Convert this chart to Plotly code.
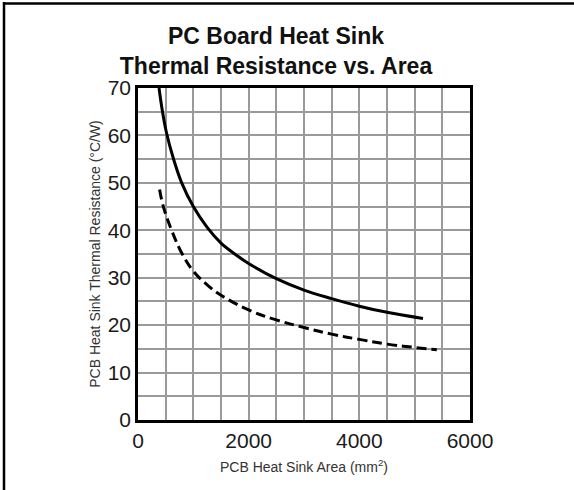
import plotly.graph_objects as go

# Data
solid_x = [380, 440, 518, 638, 790, 1000, 1250, 1500, 1750, 2000, 2500, 3000, 3500, 4000, 4500, 5150]
solid_y = [70, 65.2, 60.4, 55.2, 50, 45, 40.6, 37.3, 35.0, 33.0, 29.8, 27.4, 25.6, 24.0, 22.7, 21.4]

dashed_x = [390, 458, 608, 790, 1000, 1250, 1500, 2000, 2500, 3000, 3500, 4000, 4500, 5000, 5400]
dashed_y = [48.6, 45, 40, 35.2, 31.4, 28.5, 26.3, 23.2, 21.1, 19.5, 18.1, 17.0, 16.0, 15.3, 14.8]

x_ticks = [0, 2000, 4000, 6000]
y_ticks = [0, 10, 20, 30, 40, 50, 60, 70]

title_text = "<b>PC Board Heat Sink<br>Thermal Resistance vs. Area</b>"
x_title = "PCB Heat Sink Area (mm<sup>2</sup>)"
y_title = "PCB Heat Sink Thermal Resistance (°C/W)"

W, H = 574, 490
L, R, T, B = 138, 104, 88, 70
pw, ph = W - L - R, H - T - B

def px(x):
    return (x - L) / pw

def py(y):
    return (H - B - y) / ph

fig = go.Figure()
fig.add_trace(go.Scatter(x=solid_x, y=solid_y, mode="lines",
                         line=dict(color="black", width=3, shape="spline", smoothing=1.1),
                         showlegend=False, hoverinfo="skip"))
fig.add_trace(go.Scatter(x=dashed_x, y=dashed_y, mode="lines",
                         line=dict(color="black", width=3, dash="10px,5px", shape="spline", smoothing=1.1),
                         showlegend=False, hoverinfo="skip"))

grid_col = "#9a9a9a"
font_fam = "Liberation Sans, Arial"
fig.update_xaxes(range=[0, 6000], tickvals=x_ticks, ticks="", showgrid=True,
                 gridcolor=grid_col, gridwidth=1.6, automargin=False,
                 minor=dict(dtick=500, tick0=0, showgrid=True, gridcolor=grid_col, gridwidth=1.6),
                 showline=True, linecolor="black", linewidth=2.5, mirror=True,
                 zeroline=False,
                 tickfont=dict(family=font_fam, size=21, color="#1a1a1a"),
                 title=dict(text=x_title, font=dict(family=font_fam, size=14, color="#333"),
                            standoff=12))
fig.update_yaxes(range=[0, 70], tickvals=y_ticks, ticks="", showgrid=True,
                 gridcolor=grid_col, gridwidth=1.6, automargin=False,
                 minor=dict(dtick=5, tick0=0, showgrid=True, gridcolor=grid_col, gridwidth=1.6),
                 showline=True, linecolor="black", linewidth=2.5, mirror=True,
                 zeroline=False,
                 tickfont=dict(family=font_fam, size=21, color="#1a1a1a"),
                 title=dict(text=y_title, font=dict(family=font_fam, size=14, color="#333"),
                            standoff=4))

fig.update_layout(
    width=W, height=H,
    margin=dict(l=L, r=R, t=T, b=B, pad=0, autoexpand=False),
    paper_bgcolor="white", plot_bgcolor="white",
    title=dict(text=title_text, x=276 / W, xanchor="center", y=1 - 44 / H, yanchor="middle",
               font=dict(family=font_fam, size=23, color="#111")),
    shapes=[
        dict(type="line", xref="paper", yref="paper", x0=px(4), x1=px(4), y0=py(2), y1=py(H),
             line=dict(color="black", width=2.5)),
        dict(type="line", xref="paper", yref="paper", x0=px(3), x1=px(W), y0=py(3.5), y1=py(3.5),
             line=dict(color="black", width=2.5)),
    ],
)

fig.write_html("out.html", config={"displayModeBar": False},
               post_script="document.body.style.margin='0';")
